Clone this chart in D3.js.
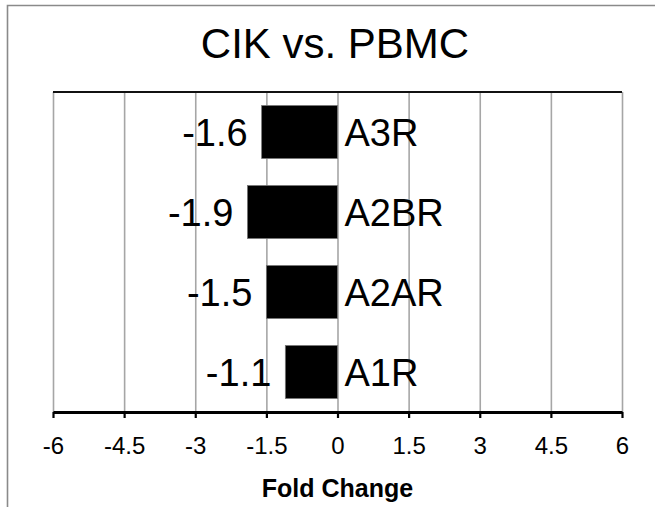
<!DOCTYPE html>
<html>
<head>
<meta charset="utf-8">
<script src="https://cdn.jsdelivr.net/npm/d3@7"></script>
<style>
  html, body { margin: 0; padding: 0; background: #fff; }
  svg { display: block; font-family: "Liberation Sans", Arial, sans-serif; }
</style>
</head>
<body>
<div id="chart"></div>
<script>
const categories = ["A3R", "A2BR", "A2AR", "A1R"];
const values = [-1.6, -1.9, -1.5, -1.1];
const valueLabels = ["-1.6", "-1.9", "-1.5", "-1.1"];
const tickValues = [-6, -4.5, -3, -1.5, 0, 1.5, 3, 4.5, 6];
const title = "CIK vs. PBMC";
const xTitle = "Fold Change";

document.addEventListener("DOMContentLoaded", drawChart);

function drawChart() {
    const width = 655,
        height = 507,
        margin = {top: 92, right: 33, bottom: 95, left: 53},
        plotW = width - margin.left - margin.right,
        plotH = height - margin.top - margin.bottom;

    const svg = d3.select("#chart").append("svg")
        .attr("width", width)
        .attr("height", height);

    // outer frame (left and top only, like the cropped figure)
    svg.append("path")
        .attr("d", "M7.5," + height + "V5.5H" + width)
        .attr("fill", "none")
        .attr("stroke", "#8a8a8a")
        .attr("stroke-width", 1.6);

    svg.append("text")
        .attr("x", 335)
        .attr("y", 58)
        .attr("text-anchor", "middle")
        .attr("font-size", 42)
        .text(title);

    const x = d3.scaleLinear()
        .domain([tickValues[0], tickValues[tickValues.length - 1]])
        .range([0, plotW]);

    const y = d3.scaleBand()
        .domain(categories)
        .range([0, plotH])
        .paddingInner(0.3375)
        .paddingOuter(0.16875);

    const g = svg.append("g")
        .attr("transform", "translate(" + margin.left + "," + margin.top + ")");

    // vertical gridlines
    g.append("g")
        .attr("transform", "translate(0," + plotH + ")")
        .call(d3.axisBottom(x).tickValues(tickValues).tickSize(-plotH).tickFormat(""))
        .call(a => a.select(".domain").remove())
        .call(a => a.selectAll("line").attr("stroke", "#a6a6a6").attr("stroke-width", 1.6));

    // top border line
    g.append("line")
        .attr("x1", x.range()[0])
        .attr("x2", x.range()[1])
        .attr("y1", 0)
        .attr("y2", 0)
        .attr("stroke", "#111")
        .attr("stroke-width", 2);

    // bars
    g.selectAll("rect.bar")
        .data(values)
        .enter()
        .append("rect")
        .attr("class", "bar")
        .attr("x", d => x(Math.min(0, d)))
        .attr("y", (d, i) => y(categories[i]))
        .attr("width", d => Math.abs(x(d) - x(0)))
        .attr("height", y.bandwidth())
        .attr("fill", "#000")
        .attr("stroke", "#777")
        .attr("stroke-width", 0.8);

    // value labels left of bars
    g.selectAll("text.val")
        .data(values)
        .enter()
        .append("text")
        .attr("class", "val")
        .attr("x", d => x(d) - 14)
        .attr("y", (d, i) => y(categories[i]) + y.bandwidth() / 2 + 14)
        .attr("text-anchor", "end")
        .attr("font-size", 38)
        .text((d, i) => valueLabels[i]);

    // category labels right of zero
    g.selectAll("text.cat")
        .data(categories)
        .enter()
        .append("text")
        .attr("class", "cat")
        .attr("x", x(0) + 7)
        .attr("y", d => y(d) + y.bandwidth() / 2 + 14)
        .attr("font-size", 38)
        .text(d => d);

    // x axis
    const xAxis = g.append("g")
        .attr("transform", "translate(0," + plotH + ")")
        .call(d3.axisBottom(x).tickValues(tickValues).tickSize(6).tickSizeOuter(0).tickPadding(19)
            .tickFormat(d => String(d)));
    xAxis.select(".domain").attr("stroke", "#000").attr("stroke-width", 3);
    xAxis.selectAll(".tick line").attr("stroke", "#000").attr("stroke-width", 2.2);
    xAxis.selectAll(".tick text")
        .attr("fill", "#000")
        .attr("font-size", 24)
        .attr("font-family", "'Liberation Sans', Arial, sans-serif");

    svg.append("text")
        .attr("x", margin.left + x(0))
        .attr("y", 497)
        .attr("text-anchor", "middle")
        .attr("font-size", 25)
        .attr("font-weight", "bold")
        .text(xTitle);
}
</script>
</body>
</html>
